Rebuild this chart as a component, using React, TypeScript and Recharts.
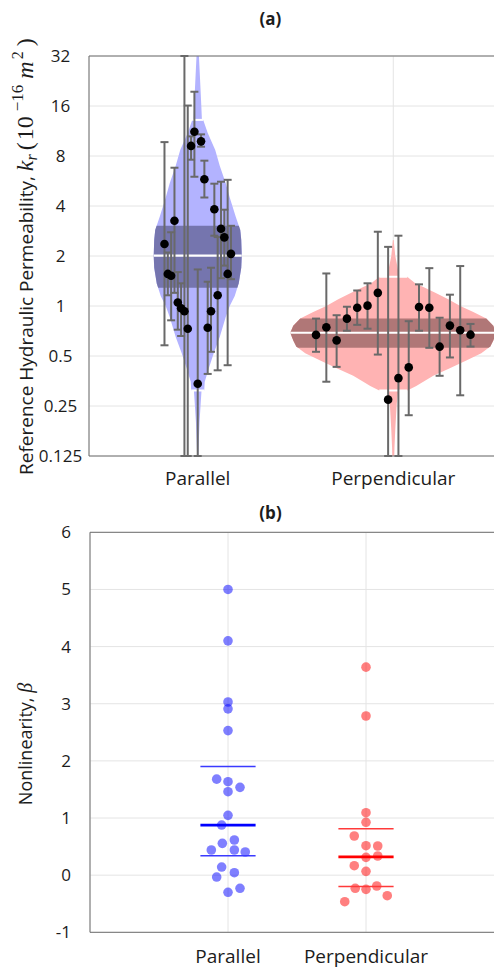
import React from 'react';
import { ComposedChart, Scatter, XAxis, YAxis, CartesianGrid, ErrorBar, ReferenceLine } from 'recharts';

// ---------- categories & ticks ----------
const categories = ['Parallel', 'Perpendicular'];
const kTicks = [0.125, 0.25, 0.5, 1, 2, 4, 8, 16, 32];
const betaTicks = [-1, 0, 1, 2, 3, 4, 5, 6];

// ---------- (a) reference hydraulic permeability, samples (1e-16 m^2) ----------
const parK = [2.36, 1.56, 1.52, 3.26, 1.05, 0.97, 0.93, 0.73, 9.2, 11.2, 0.34, 9.8, 5.8, 0.74, 0.93, 3.82, 1.16, 2.92, 2.59, 1.56, 2.06];
const parKLo = [0.58, 1.16, 0.82, 1.2, 0.72, 0.66, 0.05, 0.05, 7.6, 6.0, 0.05, 9.1, 4.5, 0.39, 0.53, 2.65, 0.41, 1.47, 1.75, 0.44, 1.45];
const parKHi = [9.7, 2.1, 2.78, 6.8, 1.6, 1.37, 60, 16.1, 10.5, 19.5, 1.66, 10.8, 7.5, 1.4, 1.7, 5.45, 2.6, 5.6, 3.8, 5.75, 3.04];

const perK = [0.67, 0.744, 0.621, 0.839, 0.977, 1.005, 1.2, 0.273, 0.368, 0.427, 0.986, 0.977, 0.569, 0.762, 0.714, 0.672];
const perKLo = [0.53, 0.35, 0.43, 0.71, 0.77, 0.73, 0.51, 0.05, 0.05, 0.22, 0.71, 0.56, 0.38, 0.49, 0.29, 0.57];
const perKHi = [0.84, 1.57, 0.88, 0.99, 1.24, 1.37, 2.8, 2.27, 2.65, 0.81, 1.35, 1.69, 0.85, 1.17, 1.74, 0.78];

// violin outlines: value levels and kernel density (half width, arbitrary units)
const parViolinV = [0.125, 0.16, 0.2, 0.25, 0.31, 0.31, 0.35, 0.42, 0.52, 0.65, 0.86, 1.0, 1.15, 1.37, 1.7, 2.0, 2.5, 2.87, 3.45, 4.5, 5.48, 7.0, 8.7, 11, 13.2, 13.2, 16, 22, 32];
const parViolinD = [0.6, 1.2, 1.8, 2.8, 3.8, 6.5, 7, 11, 16, 22, 28, 32, 37, 41, 43.5, 44, 43.5, 42.5, 38, 32, 28, 22, 17.5, 10, 5.5, 4.2, 3.6, 2.5, 1.2];
const perViolinV = [0.125, 0.14, 0.18, 0.22, 0.26, 0.31, 0.31, 0.33, 0.35, 0.38, 0.42, 0.47, 0.52, 0.57, 0.62, 0.69, 0.76, 0.84, 0.92, 1.0, 1.1, 1.2, 1.3, 1.37, 1.45, 1.5, 1.5, 1.62, 1.74, 2.0, 2.3, 2.5];
const perViolinD = [1, 1.2, 2, 2.8, 3.5, 5, 14, 23, 30, 40, 56, 73, 88, 97, 100, 103, 100, 93, 80, 67, 55, 42, 30, 22, 17, 14, 6, 5, 4, 2, 1, 0.4];

// [q1, median, q3] and [lower whisker, upper whisker]
const parQuart = [1.29, 2.01, 3.04];
const parWhisk = [0.31, 13.2];
const perQuart = [0.56, 0.69, 0.84];
const perWhisk = [0.31, 1.5];

// ---------- (b) nonlinearity beta ----------
const betaPar = [5.0, 4.1, 3.03, 2.91, 2.53, 1.68, 1.635, 1.537, 1.46, 1.047, 0.877, 0.615, 0.557, 0.44, 0.44, 0.405, 0.142, 0.043, -0.033, -0.23, -0.3];
const betaParJitter = [0, 0, 0, 0, 0, -0.082, 0, 0.087, 0, 0, -0.046, 0.046, -0.041, -0.121, 0.046, 0.125, -0.046, 0.046, -0.082, 0.087, 0];
const betaPer = [3.64, 2.785, 1.093, 0.925, 0.685, 0.515, 0.51, 0.312, 0.335, 0.165, 0.067, -0.23, -0.248, -0.19, -0.36, -0.465];
const betaPerJitter = [0, 0, 0, 0, -0.085, 0, 0.085, 0, 0.085, -0.085, 0, -0.078, 0, 0.078, 0.154, -0.154];
// [lower, median, upper]
const betaParStats = [0.34, 0.877, 1.9];
const betaPerStats = [-0.2, 0.32, 0.81];

// ---------- styling / layout ----------
const FONT = '"Open Sans", "Noto Sans", Arial, sans-serif';
const MATH = '"Liberation Serif", "DejaVu Serif", serif';
const AXIS = '#6e6e6e';
const GRID = '#e4e4e4';
const TEXT = '#1c1c1c';
const DS = 1 / 195.5; // density units -> category units
const JITTER_SPAN = [0.34, 0.79];
const STAT_HALF = 0.2;
const Z_VIOLIN = -50;

type P = { x: number; y: number; lo?: number; hi?: number };

function halfWidth(vals: number[], dens: number[], v: number): number {
  let best = -1;
  for (let i = 0; i < vals.length; i++) if (vals[i] === v) best = Math.max(best, dens[i]);
  if (best >= 0) return best;
  const lv = Math.log(v);
  for (let i = 0; i < vals.length - 1; i++) {
    if (vals[i] <= v && v <= vals[i + 1]) {
      const a = Math.log(vals[i]);
      const b = Math.log(vals[i + 1]);
      const t = b === a ? 0 : (lv - a) / (b - a);
      return dens[i] + t * (dens[i + 1] - dens[i]);
    }
  }
  return 0;
}

function violinOutline(c: number, vals: number[], dens: number[]): P[] {
  const right = vals.map((v, i) => ({ x: c + dens[i] * DS, y: v }));
  const left = vals.map((v, i) => ({ x: c - dens[i] * DS, y: v })).reverse();
  return [...right, ...left];
}

function bandOutline(c: number, vals: number[], dens: number[], lo: number, hi: number): P[] {
  const inner = vals.map((v, i) => ({ v, d: dens[i] })).filter((p) => p.v > lo && p.v < hi);
  const pts = [{ v: lo, d: halfWidth(vals, dens, lo) }, ...inner, { v: hi, d: halfWidth(vals, dens, hi) }];
  const right = pts.map((p) => ({ x: c + p.d * DS, y: p.v }));
  const left = pts.map((p) => ({ x: c - p.d * DS, y: p.v })).reverse();
  return [...right, ...left];
}

function segment(c: number, vals: number[], dens: number[], v: number): P[] {
  const d = halfWidth(vals, dens, v) * DS;
  return [{ x: c - d, y: v }, { x: c + d, y: v }];
}

function samplePoints(c: number, span: number, vals: number[], lo: number[], hi: number[]): P[] {
  const n = vals.length;
  return vals.map((v, i) => ({ x: c + (i / (n - 1) - 0.5) * span, y: v, lo: lo[i], hi: hi[i] }));
}

const K_MIN = kTicks[0];
const K_MAX = kTicks[kTicks.length - 1];
const errDelta = (d: any) => {
  const p = d && d.payload ? d.payload : d;
  return [p.y - Math.max(p.lo, K_MIN), Math.min(p.hi, K_MAX) - p.y];
};

const Empty = () => <g />;

const XTick = (props: any) => {
  const { x, y, payload, dyBase } = props;
  return (
    <text x={x} y={y + dyBase} textAnchor="middle" fontFamily={FONT} fontSize={19} fill={TEXT}>
      {categories[Math.round(payload.value) - 1]}
    </text>
  );
};

const YTickA = (props: any) => {
  const { x, y, payload } = props;
  return (
    <text x={x - 28.5} y={y} dy="0.35em" textAnchor="middle" fontFamily={FONT} fontSize={17} fill={TEXT}>
      {String(payload.value)}
    </text>
  );
};

const YTickB = (props: any) => {
  const { x, y, payload } = props;
  return (
    <text x={x - 19} y={y} dy="0.35em" textAnchor="end" fontFamily={FONT} fontSize={17} fill={TEXT}>
      {String(payload.value)}
    </text>
  );
};

function PanelA() {
  const groups = [
    {
      key: 'par', c: 1, vals: parViolinV, dens: parViolinD, q: parQuart, w: parWhisk,
      light: '#b3b3ff', dark: '#7575ae',
      pts: samplePoints(1, JITTER_SPAN[0], parK, parKLo, parKHi),
    },
    {
      key: 'per', c: 2, vals: perViolinV, dens: perViolinD, q: perQuart, w: perWhisk,
      light: '#ffb3b3', dark: '#b07777',
      pts: samplePoints(2, JITTER_SPAN[1], perK, perKLo, perKHi),
    },
  ];
  return (
    <ComposedChart width={540} height={500} margin={{ top: 56, right: 38, left: 29, bottom: 14 }}>
      <CartesianGrid stroke={GRID} strokeWidth={1} />
      <XAxis
        type="number" dataKey="x" domain={[0.444, 2.556]} ticks={[1, 2]} interval={0} allowDataOverflow
        height={30} axisLine={{ stroke: AXIS }} tickLine={false} tickSize={0} tickMargin={0}
        tick={(p: any) => <XTick {...p} dyBase={29} />}
      />
      <XAxis
        xAxisId="topTicks" orientation="top" mirror type="number" dataKey="x" domain={[0.444, 2.556]} ticks={[1, 2]}
        interval={0} allowDataOverflow height={0} axisLine={false} tick={false} tickSize={4} tickLine={{ stroke: AXIS }}
      />
      <YAxis
        type="number" dataKey="y" scale="log" domain={[K_MIN, K_MAX]} ticks={kTicks} interval={0} allowDataOverflow
        width={60} axisLine={{ stroke: AXIS }} tickLine={false} tickSize={0} tickMargin={0}
        tick={(p: any) => <YTickA {...p} />}
      />
      <ReferenceLine y={K_MAX} stroke={AXIS} />
      {groups.map((g) => (
        <Scatter key={g.key + '-violin'} zIndex={Z_VIOLIN} data={violinOutline(g.c, g.vals, g.dens)} dataKey="y" shape={Empty}
          isAnimationActive={false} line={{ fill: g.light, stroke: 'none' }} />
      ))}
      {groups.map((g) => (
        <Scatter key={g.key + '-iqr'} zIndex={Z_VIOLIN} data={bandOutline(g.c, g.vals, g.dens, g.q[0], g.q[2])} dataKey="y" shape={Empty}
          isAnimationActive={false} line={{ fill: g.dark, stroke: 'none' }} />
      ))}
      {groups.map((g) => (
        <Scatter key={g.key + '-med'} zIndex={Z_VIOLIN} data={segment(g.c, g.vals, g.dens, g.q[1])} dataKey="y" shape={Empty}
          isAnimationActive={false} line={{ stroke: '#ffffff', strokeWidth: 2.2 }} />
      ))}
      {groups.map((g) => (
        <Scatter key={g.key + '-wlo'} zIndex={Z_VIOLIN} data={segment(g.c, g.vals, g.dens, g.w[0])} dataKey="y" shape={Empty}
          isAnimationActive={false} line={{ stroke: '#ffffff', strokeWidth: 2 }} />
      ))}
      {groups.map((g) => (
        <Scatter key={g.key + '-whi'} zIndex={Z_VIOLIN} data={segment(g.c, g.vals, g.dens, g.w[1])} dataKey="y" shape={Empty}
          isAnimationActive={false} line={{ stroke: '#ffffff', strokeWidth: 2 }} />
      ))}
      {groups.map((g) => (
        <Scatter key={g.key + '-err'} data={g.pts} dataKey="y" shape={Empty} isAnimationActive={false}>
          <ErrorBar dataKey={errDelta} direction="y" width={4} stroke="#696969" strokeWidth={2} isAnimationActive={false} />
        </Scatter>
      ))}
      {groups.map((g) => (
        <Scatter key={g.key + '-pts'} data={g.pts} dataKey="y" isAnimationActive={false}
          shape={(p: any) => <circle cx={p.cx} cy={p.cy} r={4.3} fill="#000000" />} />
      ))}
    </ComposedChart>
  );
}

function PanelB() {
  const groups = [
    {
      key: 'par', c: 1, fill: '#0000ff', main: '#0000ff', thin: '#3a3aff', stats: betaParStats,
      pts: betaPar.map((v, i) => ({ x: 1 + betaParJitter[i], y: v })),
    },
    {
      key: 'per', c: 2, fill: '#ff0000', main: '#ff0000', thin: '#ff3a3a', stats: betaPerStats,
      pts: betaPer.map((v, i) => ({ x: 2 + betaPerJitter[i], y: v })),
    },
  ];
  const seg = (c: number, v: number) => [{ x: c - STAT_HALF, y: v }, { x: c + STAT_HALF, y: v }];
  return (
    <ComposedChart width={540} height={471} margin={{ top: 32.3, right: 36, left: 30, bottom: 8.7 }}>
      <CartesianGrid stroke={GRID} strokeWidth={1} />
      <XAxis
        type="number" dataKey="x" domain={[0, 3]} ticks={[1, 2]} interval={0} allowDataOverflow
        height={30} axisLine={{ stroke: AXIS }} tickLine={false} tickSize={0} tickMargin={0}
        tick={(p: any) => <XTick {...p} dyBase={31} />}
      />
      <XAxis
        xAxisId="topTicks" orientation="top" mirror type="number" dataKey="x" domain={[0, 3]} ticks={[1, 2]}
        interval={0} allowDataOverflow height={0} axisLine={false} tick={false} tickSize={4} tickLine={{ stroke: AXIS }}
      />
      <YAxis
        type="number" dataKey="y" domain={[-1, 6]} ticks={betaTicks} interval={0} allowDataOverflow
        width={60} axisLine={{ stroke: AXIS }} tickLine={false} tickSize={0} tickMargin={0}
        tick={(p: any) => <YTickB {...p} />}
      />
      <ReferenceLine y={6} stroke={AXIS} />
      {groups.map((g) => (
        <Scatter key={g.key + '-pts'} data={g.pts} dataKey="y" isAnimationActive={false}
          shape={(p: any) => <circle cx={p.cx} cy={p.cy} r={4.8} fill={g.fill} fillOpacity={0.5} />} />
      ))}
      {groups.map((g) => (
        <Scatter key={g.key + '-lo'} data={seg(g.c, g.stats[0])} dataKey="y" shape={Empty} isAnimationActive={false}
          line={{ stroke: g.thin, strokeWidth: 1.5 }} />
      ))}
      {groups.map((g) => (
        <Scatter key={g.key + '-hi'} data={seg(g.c, g.stats[2])} dataKey="y" shape={Empty} isAnimationActive={false}
          line={{ stroke: g.thin, strokeWidth: 1.5 }} />
      ))}
      {groups.map((g) => (
        <Scatter key={g.key + '-med'} data={seg(g.c, g.stats[1])} dataKey="y" shape={Empty} isAnimationActive={false}
          line={{ stroke: g.main, strokeWidth: 2.8 }} />
      ))}
    </ComposedChart>
  );
}

function Labels() {
  return (
    <svg width={494} height={971} style={{ position: 'absolute', left: 0, top: 0, pointerEvents: 'none' }}>
      <text x={270.5} y={25} textAnchor="middle" fontFamily={FONT} fontWeight="bold" fontSize={17} fill={TEXT}>(a)</text>
      <text x={270.5} y={519} textAnchor="middle" fontFamily={FONT} fontWeight="bold" fontSize={17} fill={TEXT}>(b)</text>
      <text transform="rotate(-90)" x={-475} y={33} textAnchor="start" fill={TEXT} fontFamily={FONT} fontSize={19}>
        <tspan>Reference Hydraulic Permeability, </tspan>
        <tspan fontFamily={MATH} fontStyle="italic" fontSize={24}>k</tspan>
        <tspan fontFamily={MATH} fontStyle="italic" fontSize={16} dy={4}>r</tspan>
        <tspan fontFamily={MATH} fontSize={24} dy={-4} dx={4}>(</tspan>
        <tspan fontFamily={MATH} fontSize={24} dx={2}>10</tspan>
        <tspan fontFamily={MATH} fontSize={17} dy={-10} dx={5}>−16</tspan>
        <tspan fontFamily={MATH} fontStyle="italic" fontSize={24} dy={10} dx={6}>m</tspan>
        <tspan fontFamily={MATH} fontSize={16} dy={-10} dx={2}>2</tspan>
        <tspan fontFamily={MATH} fontSize={24} dy={10} dx={5}>)</tspan>
      </text>
      <text transform="rotate(-90)" x={-744} y={31.5} textAnchor="middle" fill={TEXT} fontFamily={FONT} fontSize={18}>
        <tspan>Nonlinearity, </tspan>
        <tspan fontFamily={MATH} fontStyle="italic" fontSize={20}>β</tspan>
      </text>
    </svg>
  );
}

export default function App() {
  return (
    <div style={{ position: 'absolute', left: 0, top: 0, width: 494, height: 971, overflow: 'hidden', background: '#ffffff' }}>
      <div style={{ position: 'absolute', left: 0, top: 0 }}>
        <PanelA />
      </div>
      <div style={{ position: 'absolute', left: 0, top: 500 }}>
        <PanelB />
      </div>
      <Labels />
    </div>
  );
}
